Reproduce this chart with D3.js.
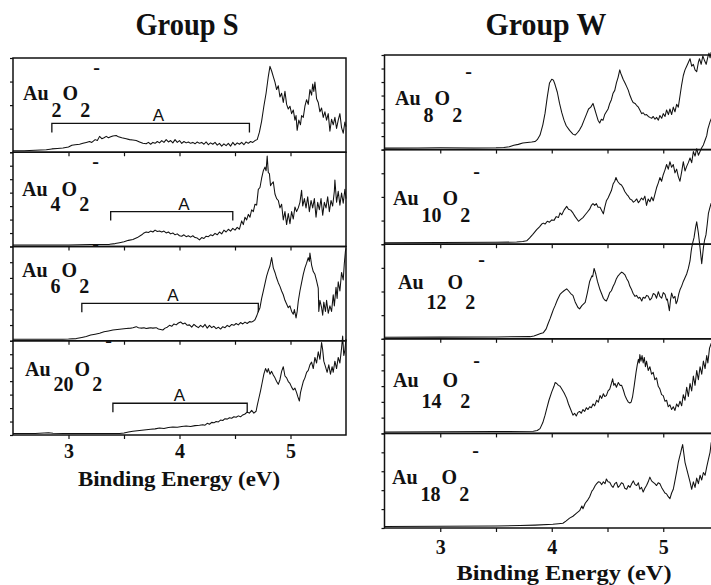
<!DOCTYPE html>
<html>
<head>
<meta charset="utf-8">
<script src="https://cdn.jsdelivr.net/npm/d3@7"></script>
<style>
  html, body { margin: 0; padding: 0; background: #fff; }
  svg { display: block; }
</style>
</head>
<body>
<svg id="chart" width="711" height="585"></svg>
<script>
// ---------------- data ----------------
const energyDomain = [2.5, 5.5];
const xTickValues = [3, 3.5, 4, 4.5, 5];
const xTickLabels = [3, 4, 5];
const groupTitles = ["Group S", "Group W"];
const axisTitle = "Binding Energy (eV)";

// cluster size n of Au_n O_2^- in each group
const sizesS = ["2", "4", "6", "20"];
const sizesW = ["8", "10", "12", "14", "18"];

// photoelectron spectra: [binding energy (eV), relative intensity]
const specAu2O2 = [[2.50,0],[2.60,0],[2.70,0.005],[2.80,0.01],[2.85,0.02],[2.90,0.025],[2.95,0.03],[3.00,0.04],[3.03,0.06],[3.06,0.065],[3.10,0.07],[3.13,0.08],[3.16,0.09],[3.19,0.10],[3.21,0.09],[3.24,0.12],[3.26,0.11],[3.28,0.155],[3.30,0.13],[3.32,0.14],[3.34,0.155],[3.36,0.14],[3.38,0.15],[3.40,0.16],[3.43,0.165],[3.45,0.15],[3.48,0.14],[3.50,0.135],[3.52,0.13],[3.55,0.12],[3.58,0.115],[3.61,0.11],[3.64,0.095],[3.67,0.08],[3.70,0.075],[3.72,0.09],[3.74,0.07],[3.76,0.09],[3.78,0.08],[3.80,0.10],[3.82,0.085],[3.84,0.11],[3.86,0.09],[3.88,0.12],[3.90,0.095],[3.92,0.11],[3.94,0.085],[3.96,0.12],[3.98,0.09],[4.00,0.11],[4.02,0.08],[4.04,0.10],[4.06,0.085],[4.08,0.095],[4.10,0.08],[4.12,0.09],[4.14,0.075],[4.16,0.095],[4.18,0.08],[4.20,0.09],[4.22,0.07],[4.24,0.095],[4.26,0.065],[4.28,0.085],[4.30,0.07],[4.32,0.09],[4.34,0.06],[4.36,0.08],[4.38,0.05],[4.40,0.075],[4.42,0.055],[4.44,0.08],[4.46,0.05],[4.48,0.09],[4.50,0.06],[4.52,0.085],[4.54,0.07],[4.56,0.09],[4.58,0.065],[4.60,0.095],[4.62,0.08],[4.64,0.10],[4.66,0.09],[4.68,0.11],[4.70,0.12],[4.72,0.20],[4.74,0.32],[4.76,0.48],[4.78,0.62],[4.80,0.80],[4.815,0.91],[4.83,0.86],[4.845,0.80],[4.86,0.74],[4.875,0.66],[4.89,0.70],[4.905,0.58],[4.92,0.62],[4.935,0.52],[4.95,0.64],[4.965,0.50],[4.98,0.45],[4.995,0.48],[5.01,0.40],[5.025,0.44],[5.04,0.33],[5.05,0.38],[5.06,0.22],[5.075,0.33],[5.09,0.28],[5.10,0.38],[5.115,0.36],[5.13,0.48],[5.145,0.55],[5.16,0.50],[5.175,0.66],[5.19,0.60],[5.20,0.72],[5.21,0.64],[5.22,0.74],[5.235,0.56],[5.25,0.52],[5.265,0.42],[5.28,0.46],[5.295,0.36],[5.31,0.42],[5.325,0.33],[5.34,0.40],[5.355,0.21],[5.37,0.34],[5.385,0.28],[5.40,0.36],[5.415,0.24],[5.43,0.33],[5.445,0.40],[5.46,0.25],[5.475,0.19],[5.49,0.31],[5.50,0.26]];

const specAu4O2 = [[2.50,0],[2.80,0],[3.00,0],[3.10,0.003],[3.20,0.005],[3.30,0.005],[3.37,0.007],[3.42,0.015],[3.46,0.025],[3.50,0.035],[3.54,0.05],[3.58,0.06],[3.62,0.08],[3.66,0.11],[3.68,0.13],[3.70,0.14],[3.72,0.135],[3.74,0.15],[3.76,0.14],[3.78,0.16],[3.80,0.145],[3.82,0.15],[3.84,0.14],[3.86,0.15],[3.88,0.13],[3.90,0.14],[3.92,0.12],[3.94,0.13],[3.96,0.11],[3.98,0.12],[4.00,0.10],[4.02,0.095],[4.04,0.11],[4.06,0.09],[4.08,0.10],[4.10,0.085],[4.12,0.10],[4.14,0.08],[4.16,0.075],[4.18,0.055],[4.20,0.08],[4.22,0.07],[4.24,0.095],[4.26,0.09],[4.28,0.11],[4.30,0.10],[4.32,0.125],[4.34,0.11],[4.36,0.14],[4.38,0.12],[4.40,0.16],[4.42,0.14],[4.44,0.17],[4.46,0.15],[4.48,0.18],[4.50,0.16],[4.52,0.19],[4.54,0.17],[4.56,0.26],[4.575,0.22],[4.59,0.30],[4.605,0.27],[4.62,0.33],[4.635,0.30],[4.65,0.38],[4.665,0.36],[4.68,0.44],[4.695,0.43],[4.71,0.60],[4.725,0.62],[4.74,0.72],[4.755,0.80],[4.77,0.84],[4.78,0.80],[4.79,0.96],[4.80,0.78],[4.81,0.77],[4.82,0.64],[4.83,0.66],[4.845,0.68],[4.86,0.55],[4.875,0.50],[4.89,0.48],[4.905,0.40],[4.92,0.44],[4.935,0.27],[4.95,0.36],[4.965,0.22],[4.98,0.34],[4.995,0.23],[5.01,0.36],[5.025,0.28],[5.04,0.41],[5.055,0.36],[5.07,0.40],[5.085,0.46],[5.10,0.59],[5.11,0.42],[5.125,0.50],[5.14,0.40],[5.155,0.52],[5.17,0.36],[5.185,0.48],[5.20,0.40],[5.215,0.50],[5.23,0.30],[5.245,0.46],[5.26,0.38],[5.275,0.50],[5.29,0.32],[5.305,0.46],[5.32,0.40],[5.335,0.52],[5.35,0.36],[5.365,0.48],[5.38,0.42],[5.395,0.58],[5.40,0.70],[5.415,0.46],[5.43,0.58],[5.445,0.43],[5.46,0.56],[5.475,0.45],[5.49,0.60],[5.50,0.50]];

const specAu6O2 = [[2.50,0],[2.80,0],[2.95,0],[3.00,0.002],[3.07,0.007],[3.12,0.02],[3.16,0.03],[3.20,0.045],[3.24,0.055],[3.28,0.065],[3.32,0.08],[3.36,0.09],[3.40,0.10],[3.44,0.105],[3.48,0.11],[3.52,0.115],[3.56,0.12],[3.58,0.125],[3.61,0.136],[3.63,0.125],[3.66,0.12],[3.68,0.125],[3.70,0.115],[3.72,0.12],[3.74,0.125],[3.76,0.12],[3.79,0.125],[3.81,0.11],[3.83,0.105],[3.85,0.10],[3.87,0.12],[3.89,0.13],[3.91,0.15],[3.93,0.14],[3.95,0.165],[3.97,0.155],[3.99,0.175],[4.01,0.186],[4.03,0.165],[4.05,0.175],[4.07,0.15],[4.09,0.155],[4.11,0.13],[4.13,0.16],[4.15,0.14],[4.17,0.125],[4.19,0.15],[4.21,0.13],[4.23,0.16],[4.25,0.12],[4.27,0.15],[4.29,0.125],[4.31,0.14],[4.33,0.115],[4.35,0.13],[4.37,0.11],[4.39,0.135],[4.41,0.125],[4.43,0.15],[4.45,0.135],[4.47,0.16],[4.49,0.15],[4.51,0.17],[4.53,0.155],[4.55,0.18],[4.57,0.165],[4.59,0.185],[4.61,0.17],[4.63,0.19],[4.65,0.185],[4.67,0.20],[4.68,0.21],[4.695,0.25],[4.71,0.30],[4.725,0.34],[4.74,0.44],[4.755,0.52],[4.77,0.60],[4.785,0.68],[4.80,0.74],[4.815,0.79],[4.83,0.88],[4.845,0.77],[4.86,0.72],[4.875,0.66],[4.89,0.61],[4.905,0.57],[4.92,0.52],[4.935,0.48],[4.95,0.42],[4.965,0.38],[4.98,0.34],[4.995,0.36],[5.01,0.30],[5.025,0.27],[5.035,0.32],[5.05,0.23],[5.06,0.30],[5.07,0.41],[5.085,0.52],[5.10,0.61],[5.115,0.70],[5.13,0.77],[5.145,0.82],[5.16,0.88],[5.17,0.84],[5.175,0.93],[5.19,0.80],[5.205,0.73],[5.22,0.70],[5.235,0.63],[5.25,0.55],[5.255,0.30],[5.265,0.42],[5.28,0.34],[5.29,0.26],[5.30,0.40],[5.315,0.30],[5.325,0.42],[5.34,0.28],[5.355,0.36],[5.37,0.30],[5.385,0.48],[5.395,0.36],[5.41,0.56],[5.42,0.44],[5.43,0.62],[5.445,0.52],[5.46,0.72],[5.475,0.64],[5.485,0.82],[5.495,0.95],[5.50,0.98]];

const specAu20O2 = [[2.50,0],[2.70,0],[2.78,0.005],[2.82,0.008],[2.86,0.003],[2.95,0],[3.20,0],[3.46,0],[3.50,0.005],[3.54,0.015],[3.58,0.025],[3.62,0.03],[3.66,0.035],[3.70,0.04],[3.74,0.045],[3.78,0.05],[3.82,0.06],[3.86,0.055],[3.90,0.065],[3.94,0.07],[3.98,0.068],[4.02,0.075],[4.06,0.08],[4.10,0.075],[4.14,0.085],[4.18,0.088],[4.21,0.095],[4.23,0.09],[4.25,0.11],[4.27,0.10],[4.29,0.12],[4.31,0.115],[4.33,0.13],[4.35,0.125],[4.37,0.145],[4.39,0.14],[4.41,0.16],[4.43,0.155],[4.45,0.17],[4.47,0.165],[4.49,0.18],[4.51,0.175],[4.53,0.19],[4.55,0.18],[4.57,0.20],[4.59,0.21],[4.61,0.23],[4.63,0.22],[4.65,0.25],[4.67,0.22],[4.69,0.24],[4.70,0.30],[4.715,0.38],[4.73,0.46],[4.745,0.55],[4.76,0.64],[4.775,0.70],[4.79,0.66],[4.80,0.70],[4.815,0.64],[4.83,0.67],[4.845,0.63],[4.86,0.60],[4.875,0.56],[4.89,0.53],[4.905,0.58],[4.92,0.67],[4.935,0.72],[4.95,0.62],[4.965,0.60],[4.98,0.56],[4.995,0.54],[5.01,0.50],[5.025,0.47],[5.04,0.49],[5.055,0.44],[5.065,0.40],[5.08,0.35],[5.09,0.44],[5.10,0.49],[5.115,0.56],[5.13,0.60],[5.145,0.66],[5.16,0.68],[5.175,0.74],[5.19,0.77],[5.205,0.70],[5.22,0.82],[5.235,0.76],[5.25,0.88],[5.265,0.80],[5.28,0.98],[5.29,0.90],[5.30,0.78],[5.315,0.72],[5.33,0.66],[5.345,0.74],[5.36,0.64],[5.375,0.72],[5.385,0.66],[5.40,0.78],[5.415,0.70],[5.43,0.82],[5.445,0.76],[5.46,0.92],[5.47,1.05],[5.48,0.84],[5.49,0.90],[5.50,1.02]];

const specAu8O2 = [[2.50,0],[2.80,0.002],[3.00,0.003],[3.30,0.002],[3.50,0.004],[3.57,0.007],[3.62,0.015],[3.66,0.03],[3.70,0.04],[3.74,0.055],[3.78,0.06],[3.82,0.065],[3.85,0.07],[3.87,0.09],[3.895,0.14],[3.92,0.25],[3.94,0.375],[3.96,0.55],[3.98,0.70],[4.00,0.74],[4.015,0.73],[4.03,0.68],[4.05,0.60],[4.07,0.48],[4.09,0.38],[4.11,0.30],[4.13,0.24],[4.16,0.19],[4.19,0.15],[4.21,0.14],[4.23,0.165],[4.25,0.196],[4.27,0.24],[4.29,0.30],[4.31,0.36],[4.33,0.42],[4.35,0.44],[4.37,0.48],[4.385,0.42],[4.40,0.36],[4.415,0.30],[4.43,0.27],[4.445,0.31],[4.46,0.30],[4.475,0.36],[4.49,0.39],[4.505,0.42],[4.52,0.48],[4.535,0.52],[4.55,0.59],[4.565,0.62],[4.58,0.70],[4.595,0.76],[4.61,0.84],[4.62,0.80],[4.627,0.78],[4.64,0.74],[4.657,0.70],[4.672,0.66],[4.687,0.62],[4.70,0.57],[4.717,0.52],[4.73,0.49],[4.747,0.48],[4.76,0.46],[4.777,0.44],[4.79,0.41],[4.807,0.37],[4.82,0.38],[4.836,0.355],[4.85,0.36],[4.866,0.34],[4.88,0.33],[4.896,0.32],[4.91,0.34],[4.926,0.31],[4.94,0.33],[4.956,0.30],[4.97,0.35],[4.986,0.32],[5.00,0.37],[5.016,0.34],[5.03,0.41],[5.046,0.36],[5.06,0.42],[5.075,0.36],[5.09,0.44],[5.105,0.39],[5.12,0.47],[5.135,0.44],[5.15,0.56],[5.165,0.68],[5.18,0.78],[5.195,0.84],[5.21,0.88],[5.225,0.92],[5.24,0.96],[5.255,0.88],[5.27,0.90],[5.285,0.84],[5.30,0.82],[5.315,0.92],[5.325,0.96],[5.34,0.90],[5.355,0.99],[5.37,0.94],[5.385,0.90],[5.40,0.98],[5.41,1.02],[5.42,0.97],[5.43,1.03],[5.50,1.06]];

const specAu10O2 = [[2.50,0],[3.00,0.002],[3.50,0.004],[3.685,0.007],[3.74,0.012],[3.775,0.02],[3.80,0.05],[3.83,0.09],[3.865,0.14],[3.89,0.17],[3.91,0.20],[3.925,0.21],[3.94,0.20],[3.96,0.23],[3.98,0.22],[4.00,0.245],[4.02,0.24],[4.04,0.28],[4.06,0.27],[4.074,0.32],[4.09,0.30],[4.11,0.35],[4.134,0.39],[4.15,0.36],[4.17,0.35],[4.19,0.32],[4.21,0.28],[4.24,0.23],[4.26,0.25],[4.28,0.27],[4.30,0.30],[4.32,0.33],[4.34,0.36],[4.355,0.40],[4.37,0.42],[4.385,0.40],[4.40,0.42],[4.415,0.38],[4.433,0.38],[4.45,0.34],[4.463,0.31],[4.475,0.38],[4.49,0.45],[4.505,0.48],[4.52,0.52],[4.535,0.56],[4.55,0.63],[4.565,0.66],[4.576,0.70],[4.59,0.66],[4.61,0.63],[4.625,0.62],[4.64,0.59],[4.655,0.55],[4.672,0.52],[4.687,0.50],[4.702,0.47],[4.717,0.46],[4.732,0.435],[4.747,0.45],[4.762,0.47],[4.777,0.43],[4.79,0.45],[4.805,0.48],[4.82,0.46],[4.835,0.50],[4.85,0.40],[4.865,0.47],[4.88,0.44],[4.895,0.49],[4.91,0.45],[4.925,0.52],[4.94,0.59],[4.955,0.64],[4.97,0.70],[4.985,0.66],[5.00,0.73],[5.015,0.78],[5.03,0.84],[5.045,0.79],[5.06,0.87],[5.075,0.81],[5.09,0.84],[5.105,0.75],[5.12,0.79],[5.135,0.71],[5.15,0.66],[5.165,0.76],[5.18,0.87],[5.195,0.77],[5.21,0.82],[5.225,0.86],[5.24,0.91],[5.255,0.86],[5.27,0.98],[5.285,0.93],[5.30,1.01],[5.315,0.94],[5.33,0.98],[5.345,1.02],[5.36,1.05],[5.375,1.10],[5.39,1.15],[5.40,1.22],[5.41,1.26],[5.42,1.30],[5.43,1.33],[5.50,1.45]];

const specAu12O2 = [[2.50,0],[3.00,0.002],[3.50,0.004],[3.805,0.007],[3.84,0.015],[3.865,0.025],[3.90,0.04],[3.925,0.05],[3.95,0.09],[3.965,0.14],[3.985,0.20],[4.00,0.25],[4.015,0.30],[4.03,0.34],[4.05,0.40],[4.074,0.46],[4.09,0.48],[4.11,0.50],[4.134,0.52],[4.15,0.50],[4.17,0.47],[4.19,0.45],[4.21,0.38],[4.235,0.32],[4.25,0.305],[4.27,0.34],[4.30,0.375],[4.32,0.48],[4.34,0.60],[4.36,0.66],[4.367,0.65],[4.38,0.74],[4.395,0.68],[4.41,0.60],[4.433,0.51],[4.45,0.46],[4.463,0.42],[4.475,0.40],[4.49,0.39],[4.505,0.43],[4.52,0.48],[4.535,0.50],[4.55,0.545],[4.565,0.58],[4.58,0.63],[4.595,0.66],[4.61,0.68],[4.627,0.70],[4.64,0.69],[4.657,0.67],[4.672,0.63],[4.687,0.60],[4.70,0.55],[4.717,0.51],[4.73,0.47],[4.747,0.44],[4.76,0.45],[4.777,0.42],[4.79,0.43],[4.807,0.39],[4.82,0.43],[4.836,0.42],[4.85,0.45],[4.866,0.44],[4.88,0.40],[4.896,0.42],[4.91,0.47],[4.926,0.46],[4.94,0.42],[4.956,0.49],[4.97,0.44],[4.986,0.42],[5.00,0.48],[5.016,0.46],[5.03,0.40],[5.037,0.41],[5.055,0.285],[5.065,0.40],[5.075,0.475],[5.09,0.42],[5.105,0.44],[5.115,0.36],[5.126,0.39],[5.14,0.47],[5.15,0.51],[5.165,0.55],[5.18,0.60],[5.195,0.64],[5.21,0.68],[5.225,0.74],[5.24,0.82],[5.25,0.92],[5.255,0.96],[5.265,1.02],[5.276,1.07],[5.29,1.18],[5.30,1.24],[5.315,1.12],[5.33,0.96],[5.345,0.79],[5.36,0.96],[5.37,1.04],[5.383,1.10],[5.395,1.22],[5.405,1.33],[5.42,1.40],[5.43,1.44],[5.50,1.55]];

const specAu14O2 = [[2.50,0],[3.00,0.002],[3.50,0.004],[3.835,0.007],[3.87,0.015],[3.895,0.035],[3.92,0.10],[3.94,0.18],[3.955,0.25],[3.975,0.34],[4.00,0.43],[4.02,0.49],[4.03,0.53],[4.045,0.52],[4.06,0.50],[4.075,0.49],[4.09,0.46],[4.11,0.42],[4.134,0.36],[4.15,0.30],[4.17,0.24],[4.19,0.18],[4.205,0.20],[4.22,0.17],[4.235,0.21],[4.25,0.22],[4.265,0.20],[4.28,0.24],[4.295,0.22],[4.31,0.26],[4.325,0.24],[4.34,0.27],[4.355,0.26],[4.37,0.30],[4.385,0.28],[4.403,0.34],[4.418,0.32],[4.433,0.39],[4.448,0.36],[4.463,0.41],[4.475,0.38],[4.49,0.39],[4.505,0.44],[4.52,0.46],[4.535,0.52],[4.546,0.57],[4.557,0.50],[4.567,0.52],[4.58,0.48],[4.597,0.53],[4.612,0.50],[4.627,0.50],[4.642,0.45],[4.657,0.39],[4.672,0.35],[4.687,0.32],[4.70,0.31],[4.712,0.32],[4.725,0.38],[4.74,0.50],[4.756,0.64],[4.767,0.72],[4.777,0.78],[4.785,0.74],[4.79,0.83],[4.80,0.76],[4.81,0.82],[4.82,0.74],[4.83,0.80],[4.84,0.70],[4.85,0.76],[4.865,0.66],[4.88,0.70],[4.895,0.62],[4.91,0.64],[4.925,0.56],[4.94,0.58],[4.955,0.49],[4.97,0.46],[4.985,0.40],[5.00,0.39],[5.015,0.33],[5.03,0.34],[5.045,0.27],[5.06,0.29],[5.075,0.24],[5.09,0.27],[5.105,0.23],[5.12,0.30],[5.135,0.27],[5.15,0.33],[5.165,0.28],[5.18,0.40],[5.195,0.34],[5.21,0.48],[5.225,0.38],[5.24,0.52],[5.255,0.44],[5.27,0.60],[5.285,0.50],[5.30,0.66],[5.315,0.56],[5.33,0.70],[5.345,0.62],[5.36,0.76],[5.375,0.68],[5.39,0.82],[5.40,0.74],[5.415,0.90],[5.43,0.95],[5.50,1.05]];

const specAu18O2 = [[2.50,0],[3.00,0.002],[3.50,0.005],[3.715,0.01],[3.85,0.015],[4.01,0.025],[4.06,0.03],[4.10,0.035],[4.13,0.06],[4.16,0.09],[4.19,0.11],[4.22,0.14],[4.25,0.17],[4.27,0.22],[4.28,0.19],[4.30,0.25],[4.32,0.28],[4.34,0.32],[4.36,0.38],[4.373,0.40],[4.39,0.44],[4.403,0.46],[4.418,0.48],[4.433,0.475],[4.448,0.45],[4.463,0.48],[4.478,0.46],[4.49,0.51],[4.505,0.48],[4.52,0.475],[4.535,0.44],[4.55,0.42],[4.565,0.46],[4.58,0.475],[4.595,0.42],[4.61,0.44],[4.625,0.47],[4.64,0.46],[4.655,0.41],[4.672,0.40],[4.687,0.44],[4.702,0.42],[4.717,0.46],[4.732,0.49],[4.747,0.45],[4.762,0.44],[4.777,0.47],[4.79,0.40],[4.805,0.42],[4.82,0.37],[4.835,0.41],[4.85,0.44],[4.865,0.48],[4.88,0.53],[4.895,0.49],[4.91,0.475],[4.925,0.46],[4.94,0.44],[4.955,0.47],[4.97,0.46],[4.985,0.42],[5.00,0.39],[5.015,0.36],[5.03,0.35],[5.045,0.32],[5.06,0.30],[5.075,0.36],[5.09,0.40],[5.10,0.46],[5.114,0.55],[5.125,0.62],[5.135,0.69],[5.145,0.74],[5.156,0.79],[5.165,0.84],[5.174,0.88],[5.185,0.78],[5.195,0.69],[5.21,0.62],[5.225,0.55],[5.24,0.48],[5.255,0.40],[5.27,0.48],[5.285,0.42],[5.30,0.52],[5.315,0.46],[5.33,0.55],[5.345,0.50],[5.36,0.58],[5.375,0.55],[5.39,0.64],[5.405,0.72],[5.42,0.80],[5.43,0.90],[5.50,1.0]];

// number of intervals between the small intensity ticks of each panel
const yTickIntervalsS = [4, 7, 6, 7];
const yTickIntervalsW = [7, 4, 4, 6, 5];

// feature "A" in group S: extent (eV), height (relative intensity), label centre (eV)
const bracketLabel = "A";
const bracketStart = [2.85, 3.38, 3.12, 3.40];
const bracketEnd   = [4.63, 4.48, 4.71, 4.61];
const bracketLevel = [0.295, 0.36, 0.387, 0.326];
const bracketLabelAt = [3.81, 4.04, 3.94, 4.00];

// ---------------- drawing ----------------
const serif = "Liberation Serif, Times New Roman, Times, serif";
const sans = "Liberation Sans, Arial, Helvetica, sans-serif";
const ink = "#111";
const svg = d3.select("#chart");

const groups = [
  {
    title: groupTitles[0], titleX: 187, titleLen: 103,
    sizes: sizesS,
    spectra: [specAu2O2, specAu4O2, specAu6O2, specAu20O2],
    intervals: yTickIntervalsS,
    x0: 13, x1: 346, top: 58, bottom: 435,
    // label layout per panel: [x, baseline below panel top, subscript drop, minus centre below panel top]
    labels: [[23, 42, 17, 11], [22, 44, 15, 11], [22, 30, 16, -1], [25, 35, 15, 2]],
    tickPad: 9, axisTitleX: 179, axisTitleY: 486, axisTitleSize: 21, axisTitleLen: 202,
    brackets: true
  },
  {
    title: groupTitles[1], titleX: 546, titleLen: 121,
    sizes: sizesW,
    spectra: [specAu8O2, specAu10O2, specAu12O2, specAu14O2, specAu18O2],
    intervals: yTickIntervalsW,
    x0: 384.5, x1: 719, top: 55, bottom: 528,
    labels: [[395, 50, 17, 18], [393, 55, 17, 24], [398, 45, 20, 17], [393, 48, 21, 24], [392, 51, 17, 19]],
    tickPad: 12, axisTitleX: 564, axisTitleY: 580, axisTitleSize: 21, axisTitleLen: 215,
    brackets: false
  }
];

function drawLabel(g, n, lx, base, sub, minusY) {
  const t = g.append("text")
    .attr("font-family", serif)
    .attr("font-weight", "bold")
    .attr("font-size", 20)
    .attr("fill", ink);
  t.append("tspan").attr("x", lx).attr("y", base).text("Au");
  t.append("tspan").attr("dx", 3).attr("y", base + sub).text(n);
  t.append("tspan").attr("dx", 1).attr("y", base).text("O");
  t.append("tspan").attr("dx", 2).attr("y", base + sub).text("2");
  t.append("tspan").attr("dx", 3).attr("y", minusY + 4.6).text("-");
}

groups.forEach(cfg => {
  const x = d3.scaleLinear().domain(energyDomain).range([cfg.x0, cfg.x1]);
  const band = d3.scaleBand()
    .domain(d3.range(cfg.spectra.length))
    .range([cfg.top, cfg.bottom])
    .padding(0);

  // group heading
  svg.append("text")
    .attr("x", cfg.titleX).attr("y", 35)
    .attr("text-anchor", "middle")
    .attr("font-family", serif).attr("font-weight", "bold")
    .attr("font-size", 32)
    .attr("textLength", cfg.titleLen).attr("lengthAdjust", "spacingAndGlyphs")
    .attr("fill", ink)
    .text(cfg.title);

  cfg.spectra.forEach((spec, i) => {
    const top = band(i);
    const bottom = top + band.bandwidth();
    const g = svg.append("g");

    const yFrame = d3.scaleLinear().domain([0, 1]).range([bottom, top]);
    const y = d3.scaleLinear().domain([0, 1]).range([bottom - 1.5, top]);

    // spectrum trace
    const line = d3.line().x(d => x(d[0])).y(d => y(d[1]));
    g.append("path")
      .datum(spec)
      .attr("d", line)
      .attr("fill", "none")
      .attr("stroke", ink)
      .attr("stroke-width", 1.05)
      .attr("stroke-linejoin", "round");

    // panel frame
    g.append("rect")
      .attr("x", cfg.x0).attr("y", top)
      .attr("width", cfg.x1 - cfg.x0).attr("height", bottom - top)
      .attr("fill", "none").attr("stroke", ink).attr("stroke-width", 1.5);

    // small intensity ticks on the left edge
    const n = cfg.intervals[i];
    const yAxis = d3.axisLeft(yFrame)
      .tickValues(d3.range(n + 1).map(k => k / n))
      .tickSize(3).tickSizeOuter(0).tickFormat("");
    const ya = g.append("g").attr("transform", `translate(${cfg.x0},0)`).call(yAxis);
    ya.select(".domain").remove();
    ya.selectAll("line").attr("stroke", ink).attr("stroke-width", 1.2);

    // energy ticks along the bottom edge
    const xAxis = d3.axisBottom(x).tickValues(xTickValues).tickSize(4).tickSizeOuter(0).tickFormat("");
    const xa = g.append("g").attr("transform", `translate(0,${bottom})`).call(xAxis);
    xa.select(".domain").remove();
    xa.selectAll("line").attr("stroke", ink).attr("stroke-width", 1.2);

    // species label Au_n O_2^-
    const lp = cfg.labels[i];
    drawLabel(g, cfg.sizes[i], lp[0], top + lp[1], lp[2], top + lp[3]);

    // feature A bracket
    if (cfg.brackets) {
      const by = y(bracketLevel[i]);
      const drop = 9;
      g.append("path")
        .attr("d", `M${x(bracketStart[i])},${by + drop}V${by}H${x(bracketEnd[i])}V${by + drop}`)
        .attr("fill", "none").attr("stroke", ink).attr("stroke-width", 1.3);
      g.append("text")
        .attr("x", x(bracketLabelAt[i])).attr("y", by - 2)
        .attr("text-anchor", "middle")
        .attr("font-family", sans).attr("font-size", 17)
        .attr("fill", ink)
        .text(bracketLabel);
    }

    // numeric energy labels under the last panel
    if (i === cfg.spectra.length - 1) {
      const lab = d3.axisBottom(x).tickValues(xTickLabels).tickSize(0).tickPadding(cfg.tickPad).tickFormat(d3.format("d"));
      const la = g.append("g").attr("transform", `translate(0,${bottom})`).call(lab);
      la.select(".domain").remove();
      la.selectAll("text")
        .attr("font-family", serif).attr("font-weight", "bold")
        .attr("font-size", 20).attr("fill", ink);
    }
  });

  // axis title
  svg.append("text")
    .attr("x", cfg.axisTitleX).attr("y", cfg.axisTitleY)
    .attr("text-anchor", "middle")
    .attr("font-family", serif).attr("font-weight", "bold")
    .attr("font-size", cfg.axisTitleSize)
    .attr("textLength", cfg.axisTitleLen).attr("lengthAdjust", "spacingAndGlyphs")
    .attr("fill", ink)
    .text(axisTitle);
});
</script>
</body>
</html>
